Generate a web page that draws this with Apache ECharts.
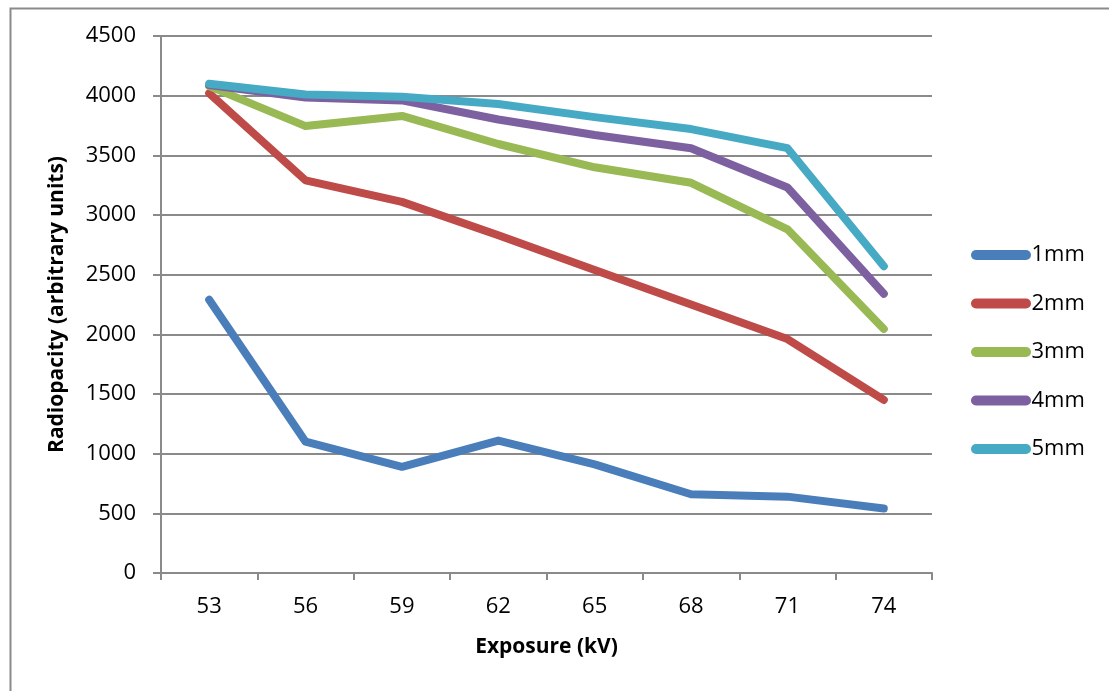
<!DOCTYPE html>
<html>
<head>
<meta charset="utf-8">
<script src="https://cdn.jsdelivr.net/npm/echarts@6/dist/echarts.min.js"></script>
<style>html,body{margin:0;padding:0;background:#fff}#c{width:1109px;height:691px}</style>
</head>
<body>
<div id="c"></div>
<script>
const categories = ['53', '56', '59', '62', '65', '68', '71', '74'];
const seriesNames = ['1mm', '2mm', '3mm', '4mm', '5mm'];
const s1mm = [2290, 1100, 890, 1110, 910, 660, 640, 540];
const s2mm = [4020, 3290, 3110, 2830, 2540, 2250, 1960, 1450];
const s3mm = [4080, 3745, 3830, 3595, 3400, 3270, 2880, 2045];
const s4mm = [4090, 3985, 3960, 3800, 3670, 3560, 3230, 2340];
const s5mm = [4100, 4010, 3990, 3930, 3820, 3720, 3560, 2570];
const colors = ['#4a7ebb', '#be4b48', '#98b954', '#7d60a0', '#46aac5'];
const yTitle = 'Radiopacity (arbitrary units)';
const xTitle = 'Exposure (kV)';

const FONT = '"Open Sans", Lato, sans-serif';
const dataSets = [s1mm, s2mm, s3mm, s4mm, s5mm];
const chart = echarts.init(document.getElementById('c'), null, {renderer: 'canvas'});
const legendIcon = 'path://M5,0 H55 A5,5 0 0 1 55,10 H5 A5,5 0 0 1 5,0 Z';

chart.setOption({
  animation: false,
  backgroundColor: '#fff',
  textStyle: {fontFamily: FONT},
  graphic: [{
    type: 'rect', left: 8, top: 6, silent: true,
    shape: {width: 1200, height: 800},
    style: {fill: 'none', stroke: '#8a8a8a', lineWidth: 2}
  }],
  grid: {left: 161, right: 177, top: 36, bottom: 118, containLabel: false},
  legend: {
    orient: 'vertical', left: 966, top: 236,
    itemWidth: 61, itemHeight: 10, itemGap: 20.5,
    icon: legendIcon,
    textStyle: {fontFamily: FONT, fontSize: 22, color: '#000', lineHeight: 28, padding: [0, 0, 0, -5]},
    data: seriesNames
  },
  xAxis: {
    type: 'category', data: categories, boundaryGap: true,
    name: xTitle, nameLocation: 'middle', nameGap: 64,
    nameTextStyle: {fontFamily: FONT, fontSize: 21, fontWeight: 'bold', color: '#000'},
    axisLine: {lineStyle: {color: '#8a8a8a', width: 2}},
    axisTick: {show: true, length: 7, lineStyle: {color: '#8a8a8a', width: 2}},
    axisLabel: {fontFamily: FONT, fontSize: 22, color: '#000', margin: 23}
  },
  yAxis: {
    type: 'value', min: 0, max: 4500, interval: 500,
    name: yTitle, nameLocation: 'middle', nameGap: 93, nameRotate: 90,
    nameTextStyle: {fontFamily: FONT, fontSize: 21, fontWeight: 'bold', color: '#000'},
    axisLine: {show: true, lineStyle: {color: '#8a8a8a', width: 2}},
    axisTick: {show: true, length: 8, lineStyle: {color: '#8a8a8a', width: 2}},
    axisLabel: {fontFamily: FONT, fontSize: 22, color: '#000', margin: 25, formatter: v => String(v)},
    splitLine: {show: true, lineStyle: {color: '#8a8a8a', width: 2}}
  },
  series: seriesNames.map((n, i) => ({
    name: n, type: 'line', data: dataSets[i],
    showSymbol: false, symbol: 'none',
    color: colors[i],
    lineStyle: {width: 8, color: colors[i], cap: 'round', join: 'round'},
    itemStyle: {color: colors[i]}
  }))
});
</script>
</body>
</html>
